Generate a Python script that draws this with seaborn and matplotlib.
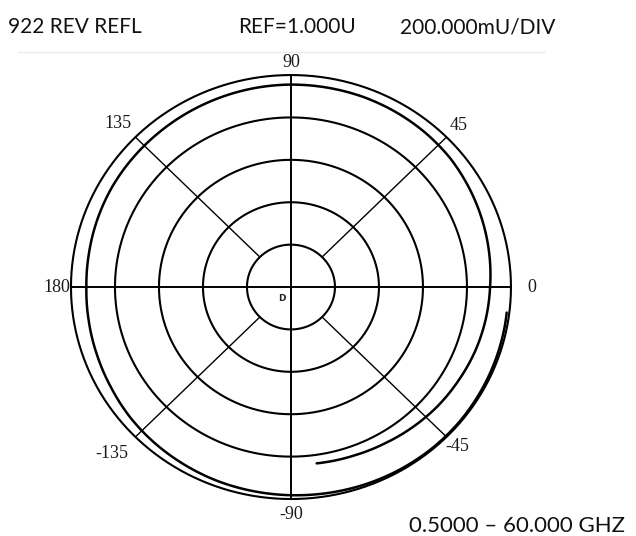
import numpy as np
import matplotlib
matplotlib.use("Agg")
import matplotlib.pyplot as plt
from matplotlib.lines import Line2D
import seaborn as sns

# reflection trace: phase (deg) and magnitude (U), 0.5 -> 60 GHz
trace_phase = [-82, -70, -60, -50, -40, -30, -20, -10, 0, 10, 20, 30, 40, 50,
               60, 70, 80, 90, 100, 110, 120, 130, 140, 150, 160, 170, 180,
               190, 200, 210, 220, 230, 240, 250, 260, 270, 280, 290, 300,
               310, 320, 330, 340, 350, 353]
trace_mag = [0.840, 0.845, 0.852, 0.862, 0.872, 0.880, 0.890, 0.898, 0.905,
             0.915, 0.925, 0.935, 0.945, 0.950, 0.953, 0.955, 0.955, 0.955,
             0.953, 0.950, 0.947, 0.944, 0.942, 0.940, 0.936, 0.932, 0.930,
             0.933, 0.938, 0.945, 0.955, 0.962, 0.968, 0.974, 0.978, 0.982,
             0.986, 0.990, 0.993, 0.995, 0.995, 0.993, 0.991, 0.989, 0.988]

ring_radii = [0.2, 0.4, 0.6, 0.8, 1.0]
spoke_angles = [0, 45, 90, 135, 180, 225, 270, 315]
angle_labels = ["0", "45", "90", "135", "180", "-135", "-90", "-45"]

header = ["922 REV REFL", "REF=1.000U", "200.000mU/DIV"]
footer = "0.5000 \u2013 60.000 GHZ"

sns.set_style("white")
plt.rcParams["font.family"] = ["Lato", "DejaVu Sans"]

fig = plt.figure(figsize=(6.36, 5.36), dpi=100)
ax = fig.add_axes([0.1116, 0.069, 0.6918, 0.791], projection="polar")
ax.set_aspect("auto")
ax.set_ylim(0, 1.0)
ax.grid(False)
ax.set_xticks([])
ax.set_yticks([])
ax.spines["polar"].set_visible(False)
ax.set_facecolor("white")

# rings
theta = np.linspace(0, 2 * np.pi, 721)
for r in ring_radii:
    ax.plot(theta, np.full_like(theta, r), color="black", lw=1.5, clip_on=False)

# spokes: axes lines go through the centre, diagonals start at first ring
for a in spoke_angles:
    t = np.deg2rad(a)
    r0 = 0.0 if a % 90 == 0 else ring_radii[0]
    lw = 1.4 if a % 90 == 0 else 1.0
    ax.plot([t, t], [r0, 1.0], color="black", lw=lw, clip_on=False)

# trace
sns.lineplot(x=np.deg2rad(trace_phase), y=trace_mag, sort=False, ax=ax,
             color="black", lw=1.8, estimator=None)
trace_line = ax.lines[-1]
trace_line.set_clip_on(False)
trace_line.get_path()._interpolation_steps = 40   # draw segments as spirals
ax.set_xlabel("")
ax.set_ylabel("")

# angle labels
label_pos = {"0": (0, 1.095), "45": (45, 1.08), "90": (90, 1.06),
             "135": (135.5, 1.10), "180": (180, 1.065), "-135": (-136, 1.13),
             "-90": (-90, 1.075), "-45": (-45, 1.067)}
for lab in angle_labels:
    a, r = label_pos[lab]
    ax.text(np.deg2rad(a), r, lab, ha="center", va="center",
            family="Liberation Serif", fontsize=13, color="#1a1a1a")

ax.text(np.deg2rad(-128), 0.066, "D", ha="center", va="center",
        family="DejaVu Sans", fontsize=6.5, fontweight="bold")

# header / footer
for txt, x in zip(header, [8, 238, 400]):
    fig.text(x / 636, 1 - 33 / 536, txt, ha="left", va="baseline",
             fontsize=15, color="#111111")
fig.text(409 / 636, 1 - 532 / 536, footer, ha="left", va="baseline",
         fontsize=16, color="#111111")
fig.add_artist(Line2D([18 / 636, 545 / 636], [1 - 52 / 536, 1 - 52 / 536],
                      color="#ececec", lw=1))

fig.savefig("out.png", dpi=100, facecolor="white")
